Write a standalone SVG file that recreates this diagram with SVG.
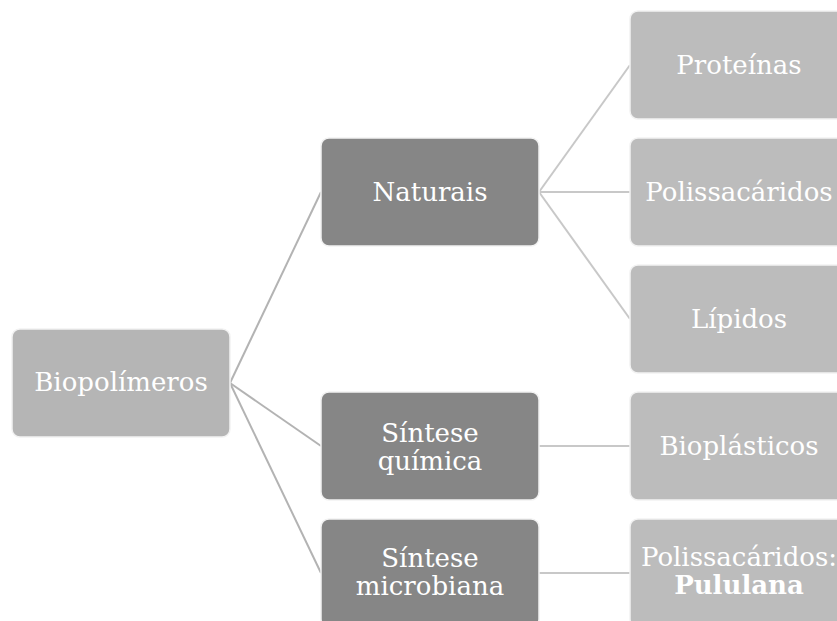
<svg xmlns="http://www.w3.org/2000/svg" width="837" height="621" viewBox="0 0 837 621">
<style>
.box{stroke:#f2f2f2;stroke-width:1.5}
.l1{fill:#b5b5b5}
.l2{fill:#868686}
.l3{fill:#bcbcbc}
.t{font-family:"DejaVu Serif","Liberation Serif",serif;font-size:26px;fill:#ffffff;text-anchor:middle}
.b{font-weight:bold}
.c{stroke:#c8c8c8;stroke-width:2;fill:none}
.c1{stroke:#b3b3b3}
</style>
<rect width="837" height="621" fill="#ffffff"/>
<g id="connectors">
<path class="c c1" d="M230 383 L321 192"/>
<path class="c c1" d="M230 383 L321 446"/>
<path class="c c1" d="M230 383 L321 573"/>
<path class="c" d="M539 192 L630 65"/>
<path class="c" d="M539 192 L630 192"/>
<path class="c" d="M539 192 L630 319"/>
<path class="c" d="M539 446 L630 446"/>
<path class="c" d="M539 573 L630 573"/>
</g>
<g id="biopolimeros">
<rect class="box l1" x="12" y="329" width="218" height="108" rx="8"/>
<text class="t" x="121" y="391">Biopolímeros</text>
</g>
<g id="naturais">
<rect class="box l2" x="321" y="138" width="218" height="108" rx="8"/>
<text class="t" x="430" y="201">Naturais</text>
</g>
<g id="sintese-quimica">
<rect class="box l2" x="321" y="392" width="218" height="108" rx="8"/>
<text class="t" x="430" y="442">Síntese</text>
<text class="t" x="430" y="470">química</text>
</g>
<g id="sintese-microbiana">
<rect class="box l2" x="321" y="519" width="218" height="108" rx="8"/>
<text class="t" x="430" y="567">Síntese</text>
<text class="t" x="430" y="595">microbiana</text>
</g>
<g id="proteinas">
<rect class="box l3" x="630" y="11" width="218" height="108" rx="8"/>
<text class="t" x="739" y="74">Proteínas</text>
</g>
<g id="polissacaridos">
<rect class="box l3" x="630" y="138" width="218" height="108" rx="8"/>
<text class="t" x="739" y="201">Polissacáridos</text>
</g>
<g id="lipidos">
<rect class="box l3" x="630" y="265" width="218" height="108" rx="8"/>
<text class="t" x="739" y="328">Lípidos</text>
</g>
<g id="bioplasticos">
<rect class="box l3" x="630" y="392" width="218" height="108" rx="8"/>
<text class="t" x="739" y="455">Bioplásticos</text>
</g>
<g id="pululana">
<rect class="box l3" x="630" y="519" width="218" height="108" rx="8"/>
<text class="t" x="739" y="566">Polissacáridos:</text>
<text class="t b" x="739" y="594">Pululana</text>
</g>
</svg>
